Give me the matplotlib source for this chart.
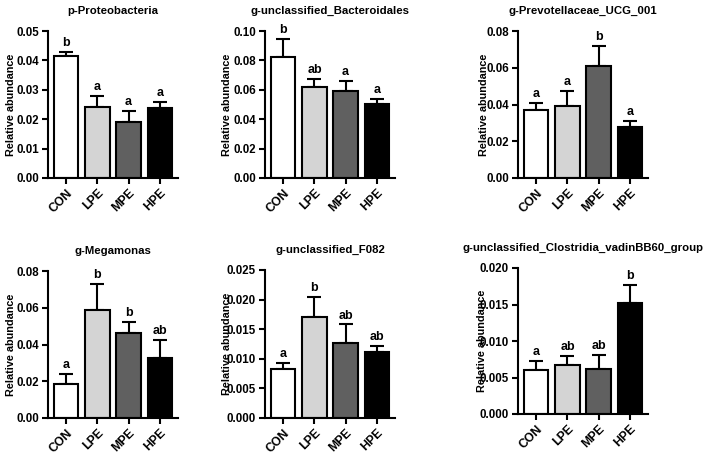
import numpy as np
import matplotlib
matplotlib.use('Agg')
import matplotlib.pyplot as plt

plt.rcParams['font.family'] = ['Liberation Sans', 'DejaVu Sans']
plt.rcParams['font.weight'] = 'bold'

# 组别
groups = ['CON', 'LPE', 'MPE', 'HPE']
bar_colors = ['white', '#d4d4d4', '#606060', 'black']

# 各面板数据（均值、误差上限、显著性字母）
titles = ['p-Proteobacteria', 'g-unclassified_Bacteroidales', 'g-Prevotellaceae_UCG_001',
          'g-Megamonas', 'g-unclassified_F082', 'g-unclassified_Clostridia_vadinBB60_group']

proteo_mean = [0.0415, 0.0243, 0.0189, 0.0239]
proteo_err = [0.0015, 0.0037, 0.0040, 0.0019]
proteo_sig = ['b', 'a', 'a', 'a']

bacteroidales_mean = [0.0821, 0.0622, 0.0595, 0.0505]
bacteroidales_err = [0.0122, 0.0054, 0.0068, 0.0033]
bacteroidales_sig = ['b', 'ab', 'a', 'a']

prevotella_mean = [0.0371, 0.0391, 0.0612, 0.0275]
prevotella_err = [0.0038, 0.0085, 0.0107, 0.0036]
prevotella_sig = ['a', 'a', 'b', 'a']

megamonas_mean = [0.0187, 0.0586, 0.0461, 0.0328]
megamonas_err = [0.0052, 0.0145, 0.0063, 0.0098]
megamonas_sig = ['a', 'b', 'b', 'ab']

f082_mean = [0.00835, 0.0170, 0.0126, 0.0111]
f082_err = [0.00102, 0.0034, 0.0032, 0.0011]
f082_sig = ['a', 'b', 'ab', 'ab']

vadin_mean = [0.00605, 0.00668, 0.00614, 0.01514]
vadin_err = [0.00118, 0.00132, 0.00196, 0.0025]
vadin_sig = ['a', 'ab', 'ab', 'b']

means = [proteo_mean, bacteroidales_mean, prevotella_mean, megamonas_mean, f082_mean, vadin_mean]
errs = [proteo_err, bacteroidales_err, prevotella_err, megamonas_err, f082_err, vadin_err]
sigs = [proteo_sig, bacteroidales_sig, prevotella_sig, megamonas_sig, f082_sig, vadin_sig]

y_max = [0.05, 0.10, 0.08, 0.08, 0.025, 0.020]
y_step = [0.01, 0.02, 0.02, 0.02, 0.005, 0.005]
y_fmt = ['%.2f', '%.2f', '%.2f', '%.2f', '%.3f', '%.3f']

# 子图位置（像素）：左边、上边、下边
W, H = 708, 454
boxes = [(48, 31, 178), (265, 31, 178), (518, 31, 178),
         (48, 271, 418), (265, 270, 418), (518, 268, 414)]
label_x = [-0.245, -0.25, -0.22, -0.245, -0.25, -0.235]

fig = plt.figure(figsize=(7.08, 4.54), dpi=100)

for i in range(6):
    x0, top, bottom = boxes[i]
    ax = fig.add_axes([x0 / W, 1 - bottom / H, 130 / W, (bottom - top) / H])
    x = np.arange(len(groups))
    ax.bar(x, means[i], width=0.78, color=bar_colors, edgecolor='black', linewidth=1.5, zorder=2)
    ax.errorbar(x, means[i], yerr=[np.zeros(4), errs[i]], fmt='none', ecolor='black',
                elinewidth=1.5, capsize=5, capthick=1.5, zorder=1)
    for j in range(4):
        ax.text(x[j], means[i][j] + errs[i][j] + y_max[i] * 0.02, sigs[i][j],
                ha='center', va='bottom', fontsize=9, fontweight='bold')

    ax.set_xlim(-0.59, 3.59)
    ax.set_ylim(0, y_max[i])
    ticks = np.arange(0, y_max[i] + y_step[i] / 2, y_step[i])
    ax.set_yticks(ticks)
    ax.set_yticklabels([y_fmt[i] % t for t in ticks], fontsize=8.3, fontweight='bold')
    ax.set_xticks(x)
    ax.set_xticklabels(groups, rotation=45, ha='right', rotation_mode='anchor',
                       fontsize=8.8, fontweight='bold')
    ax.tick_params(axis='both', width=1.5, length=4, pad=2.5)
    ax.spines['top'].set_visible(False)
    ax.spines['right'].set_visible(False)
    ax.spines['left'].set_linewidth(1.5)
    ax.spines['bottom'].set_linewidth(1.5)
    ax.set_ylabel('Relative abundance', fontsize=7.8, fontweight='bold')
    ax.yaxis.set_label_coords(label_x[i], 0.5)
    ax.set_title(titles[i], fontsize=8.2, fontweight='bold', pad=12)

fig.savefig('out.png', dpi=100)
